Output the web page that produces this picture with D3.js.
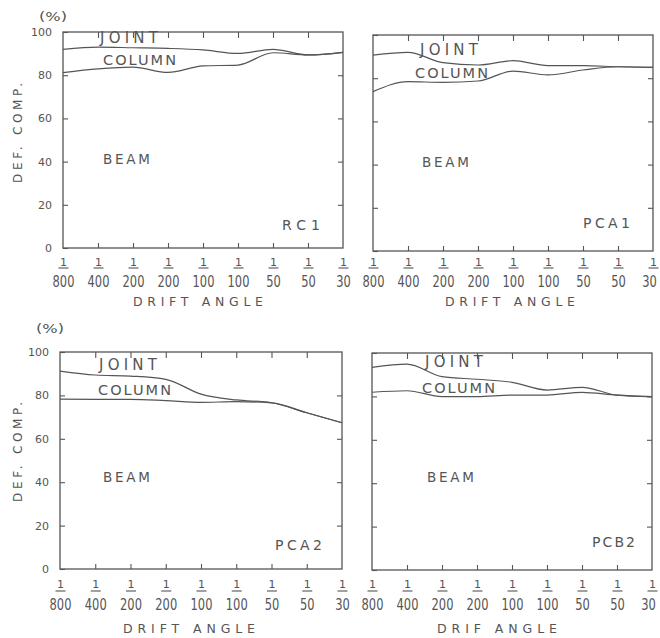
<!DOCTYPE html>
<html>
<head>
<meta charset="utf-8">
<script src="https://cdn.jsdelivr.net/npm/d3@7"></script>
<style>
  body { margin: 0; background: #fff; }
  text { font-family: "DejaVu Sans", sans-serif; fill: #555; }
</style>
</head>
<body>
<div id="chart"></div>
<script>
// drift angle 1/n, one point per loading step
const driftLabels = ["800", "400", "200", "200", "100", "100", "50", "50", "30"];
const yTicks = [0, 20, 40, 60, 80, 100];

// top of the COLUMN share (boundary with JOINT), %
const rc1Column  = [92.0, 93.0, 92.7, 92.4, 91.7, 90.1, 92.0, 89.4, 90.6];
const pca1Column = [90.7, 92.0, 87.2, 86.1, 88.1, 85.8, 85.8, 85.3, 85.0];
const pca2Column = [91.2, 89.4, 88.9, 87.4, 80.6, 77.9, 76.6, 72.0, 67.4];
const pcb2Column = [93.4, 94.9, 89.1, 87.9, 86.5, 82.9, 84.2, 80.6, 79.9];

// top of the BEAM share (boundary with COLUMN), %
const rc1Beam  = [81.2, 82.9, 83.7, 81.3, 84.3, 84.7, 90.4, 89.4, 90.6];
const pca1Beam = [73.8, 78.4, 78.1, 78.7, 83.3, 81.5, 83.8, 85.3, 85.0];
const pca2Beam = [78.3, 78.2, 78.2, 77.6, 76.8, 77.1, 76.6, 72.0, 67.4];
const pcb2Beam = [81.9, 82.6, 79.9, 79.9, 80.6, 80.6, 81.9, 80.6, 79.9];

const rows = [
  { one: 266, bar: 268, num: 287, title: 306, pct: 21, ylab: 133 },
  { one: 588, bar: 591, num: 610, title: 633, pct: 333, ylab: 452 }
];

const panels = [
  { name: "RC1", column: rc1Column, beam: rc1Beam, row: 0, left: 63, right: 343, top: 32, bottom: 248,
    yLabels: true, xTitle: "DRIFT ANGLE", titleX: 198, titleW: 130,
    joint: [100, 43], col: [103, 65], beamAt: [103, 164], nameAt: [282, 230, 38] },
  { name: "PCA1", column: pca1Column, beam: pca1Beam, row: 0, left: 373, right: 653, top: 35, bottom: 251,
    yLabels: false, xTitle: "DRIFT ANGLE", titleX: 510, titleW: 130,
    joint: [420, 55], col: [415, 78], beamAt: [422, 167], nameAt: [583, 228, 47] },
  { name: "PCA2", column: pca2Column, beam: pca2Beam, row: 1, left: 60, right: 342, top: 352, bottom: 569,
    yLabels: true, xTitle: "DRIFT ANGLE", titleX: 189, titleW: 132,
    joint: [99, 370], col: [98, 395], beamAt: [103, 482], nameAt: [275, 550, 47] },
  { name: "PCB2", column: pcb2Column, beam: pcb2Beam, row: 1, left: 372, right: 652, top: 353, bottom: 570,
    yLabels: false, xTitle: "DRIF ANGLE", titleX: 497, titleW: 120,
    joint: [425, 367], col: [422, 393], beamAt: [427, 482], nameAt: [592, 547, 43] }
];

const ink = "#555";

const svg = d3.select("#chart")
  .append("svg")
  .attr("width", 660)
  .attr("height", 638);

// spaced-out typewriter style lettering
function label(txt, x, y, size, len, adjust) {
  return svg.append("text")
    .attr("x", x)
    .attr("y", y)
    .attr("font-size", size)
    .attr("textLength", len)
    .attr("lengthAdjust", adjust || "spacing")
    .text(txt);
}

panels.forEach(p => {
  const row = rows[p.row];
  const x = d3.scalePoint().domain(d3.range(driftLabels.length)).range([p.left, p.right]);
  const y = d3.scaleLinear().domain([0, 100]).range([p.bottom, p.top]);
  const g = svg.append("g");

  // frame
  g.append("rect")
    .attr("x", p.left).attr("y", p.top)
    .attr("width", p.right - p.left).attr("height", p.bottom - p.top)
    .attr("fill", "none").attr("stroke", ink).attr("stroke-width", 1.3);

  const inner = d3.range(1, driftLabels.length - 1);

  // inward ticks on all four sides
  const left = g.append("g").attr("transform", `translate(${p.left},0)`)
    .call(d3.axisLeft(y).tickValues(yTicks).tickSize(-5).tickPadding(11)
      .tickFormat(p.yLabels ? d3.format("d") : ""));
  const right = g.append("g").attr("transform", `translate(${p.right},0)`)
    .call(d3.axisRight(y).tickValues(yTicks.slice(1, -1)).tickSize(-5).tickFormat(""));
  const top = g.append("g").attr("transform", `translate(0,${p.top})`)
    .call(d3.axisTop(x).tickValues(inner).tickSize(-6).tickFormat(""));
  const bottom = g.append("g").attr("transform", `translate(0,${p.bottom})`)
    .call(d3.axisBottom(x).tickValues(inner).tickSize(-5).tickFormat(""));

  [left, right, top, bottom].forEach(a => {
    a.select(".domain").remove();
    a.attr("color", ink);
    a.selectAll("line").attr("stroke-width", 1.1);
  });
  left.selectAll("text")
    .attr("font-family", "DejaVu Sans, sans-serif")
    .attr("font-size", 11)
    .style("fill", ink);

  // drift angle labels drawn as 1/n fractions
  const xl = g.append("g")
    .call(d3.axisBottom(x).tickSize(0).tickFormat(""));
  xl.select(".domain").remove();
  xl.selectAll(".tick").each(function(d) {
    const t = d3.select(this);
    const shift = (x(d) + 8 > 658) ? -4 : 0; // keep the last label on the page
    t.select("text").remove();
    t.append("text")
      .attr("y", row.one)
      .attr("text-anchor", "middle")
      .attr("font-size", 11)
      .text("1");
    t.append("line")
      .attr("x1", -5).attr("x2", 5)
      .attr("y1", row.bar).attr("y2", row.bar)
      .attr("stroke", ink).attr("stroke-width", 1.1);
    t.append("text")
      .attr("x", shift)
      .attr("y", row.num)
      .attr("text-anchor", "middle")
      .attr("font-size", 15)
      .attr("textLength", driftLabels[d].length * 7.3)
      .attr("lengthAdjust", "spacingAndGlyphs")
      .text(driftLabels[d]);
  });

  // share boundaries
  const line = d3.line()
    .x((d, i) => x(i))
    .y(d => y(d))
    .curve(d3.curveMonotoneX);

  [p.column, p.beam].forEach(s => {
    g.append("path")
      .datum(s)
      .attr("d", line)
      .attr("fill", "none")
      .attr("stroke", ink)
      .attr("stroke-width", 1.2);
  });

  // zone names and specimen
  label("JOINT", p.joint[0], p.joint[1], 15, 58);
  label("COLUMN", p.col[0], p.col[1], 14.5, 73);
  label("BEAM", p.beamAt[0], p.beamAt[1], 13.5, 47);
  label(p.name, p.nameAt[0], p.nameAt[1], 14, p.nameAt[2]);

  // axis titles
  label(p.xTitle, p.titleX - p.titleW / 2, row.title, 12.5, p.titleW);
  if (p.yLabels) {
    label("(%)", p.left - 24, row.pct, 12, 28, "spacingAndGlyphs");
    svg.append("text")
      .attr("transform", `translate(22,${row.ylab}) rotate(-90)`)
      .attr("text-anchor", "middle")
      .attr("font-size", 12)
      .attr("textLength", 100)
      .attr("lengthAdjust", "spacing")
      .text("DEF. COMP.");
  }
});
</script>
</body>
</html>
